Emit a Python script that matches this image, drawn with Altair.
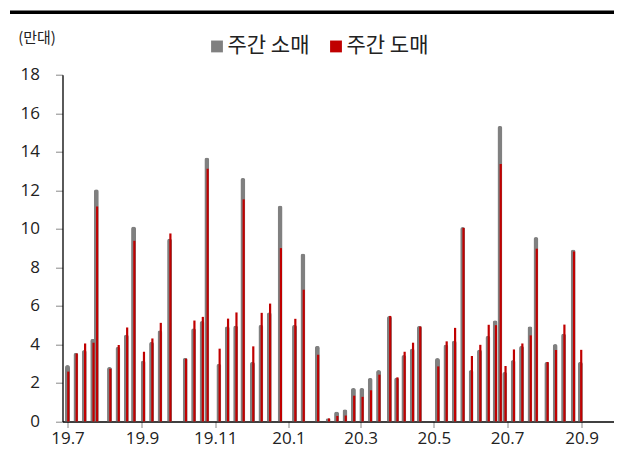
import altair as alt
import pandas as pd

dates = [
    "2019-07-01", "2019-07-08", "2019-07-15", "2019-07-22", "2019-07-25",
    "2019-08-05", "2019-08-12", "2019-08-19", "2019-08-25",
    "2019-09-02", "2019-09-09", "2019-09-16", "2019-09-24",
    "2019-10-07", "2019-10-14", "2019-10-21", "2019-10-25",
    "2019-11-04", "2019-11-11", "2019-11-18", "2019-11-24",
    "2019-12-02", "2019-12-09", "2019-12-16", "2019-12-25",
    "2020-01-06", "2020-01-13", "2020-01-25",
    "2020-02-03", "2020-02-10", "2020-02-17", "2020-02-24",
    "2020-03-02", "2020-03-09", "2020-03-16", "2020-03-25", "2020-03-31",
    "2020-04-06", "2020-04-13", "2020-04-19",
    "2020-05-04", "2020-05-11", "2020-05-18", "2020-05-25",
    "2020-06-01", "2020-06-08", "2020-06-15", "2020-06-21", "2020-06-25", "2020-06-29",
    "2020-07-06", "2020-07-13", "2020-07-20", "2020-07-25",
    "2020-08-03", "2020-08-10", "2020-08-17", "2020-08-25", "2020-08-31",
]

retail = [
    2.93, 3.57, 3.71, 4.29, 12.05,
    2.83, 3.88, 4.52, 10.12,
    3.17, 4.14, 4.74, 9.50,
    3.31, 4.84, 5.21, 13.70,
    3.00, 4.95, 4.98, 12.64,
    3.10, 5.02, 5.67, 11.21,
    5.02, 8.72, 3.93,
    0.17, 0.52, 0.64, 1.74,
    1.74, 2.26, 2.67, 5.48, 2.29,
    3.45, 3.79, 4.97,
    3.29, 4.00, 4.21, 10.09,
    2.67, 3.74, 4.45, 5.26, 15.34, 2.57,
    3.19, 3.93, 4.95, 9.57,
    3.09, 4.02, 4.57, 8.93, 3.10,
]

wholesale = [
    2.59, 3.53, 4.05, 4.09, 11.16,
    2.74, 3.97, 4.88, 9.38,
    3.62, 4.31, 5.12, 9.76,
    3.26, 5.24, 5.43, 13.12,
    3.78, 5.34, 5.66, 11.53,
    3.90, 5.64, 6.12, 9.00,
    5.33, 6.84, 3.47,
    0.16, 0.29, 0.31, 1.34,
    1.28, 1.62, 2.43, 5.48, 2.29,
    3.62, 4.09, 4.93,
    2.86, 4.16, 4.86, 10.05,
    3.40, 3.98, 5.02, 5.00, 13.36, 2.88,
    3.74, 4.05, 4.47, 8.97,
    3.09, 3.71, 5.03, 8.83, 3.72,
]

series_names = ["주간 소매", "주간 도매"]
series_colors = ["#808080", "#C00000"]
y_ticks = [0, 2, 4, 6, 8, 10, 12, 14, 16, 18]
x_tick_months = [(2019, 7), (2019, 9), (2019, 11), (2020, 1), (2020, 3), (2020, 5), (2020, 7), (2020, 9)]

rows = []
for d, r, w in zip(dates, retail, wholesale):
    rows.append({"date": d, "series": series_names[0], "value": r})
    rows.append({"date": d, "series": series_names[1], "value": w})
df = pd.DataFrame(rows)

x_enc = alt.X(
    "date:T",
    scale=alt.Scale(
        type="utc",
        domain=[
            alt.DateTime(year=2019, month=7, date=1, utc=True),
            alt.DateTime(year=2020, month=9, date=23, hours=19, utc=True),
        ],
    ),
    axis=alt.Axis(
        values=[alt.DateTime(year=y, month=m, date=1, utc=True) for y, m in x_tick_months],
        format="%y.%-m",
        title=None,
        labelFont="Open Sans",
        labelFontSize=17,
        labelColor="#222222",
        labelPadding=3,
        tickSize=6,
        tickColor="#888888",
        domainColor="#000000",
        domainWidth=1.3,
        grid=False,
        labelFlush=False,
    ),
)

y_enc = alt.Y(
    "value:Q",
    scale=alt.Scale(domain=[0, 18], nice=False),
    axis=alt.Axis(
        values=y_ticks,
        title="(만대)",
        titleAngle=0,
        titleX=-26,
        titleY=-37,
        titleAlign="center",
        titleBaseline="middle",
        titleFont="Noto Sans CJK KR",
        titleFontSize=15,
        titleFontWeight="normal",
        titleColor="#222222",
        labelFont="Open Sans",
        labelFontSize=17,
        labelColor="#222222",
        labelPadding=16,
        tickSize=7,
        tickColor="#888888",
        domainColor="#000000",
        domainWidth=1.3,
        grid=False,
    ),
)

color_enc = alt.Color(
    "series:N",
    scale=alt.Scale(domain=series_names, range=series_colors),
    legend=alt.Legend(
        title=None,
        orient="none",
        direction="horizontal",
        legendX=144,
        legendY=-39,
        symbolType="square",
        symbolSize=140,
        symbolStrokeWidth=0,
        symbolOpacity=1,
        labelFont="Noto Sans CJK KR",
        labelFontSize=21,
        labelColor="#222222",
        labelOffset=0,
        columnPadding=16,
    ),
)

base = alt.Chart(df)

gray = base.transform_filter(alt.datum.series == series_names[0]).mark_bar(
    size=5, cornerRadiusTopLeft=2.5, cornerRadiusTopRight=2.5
).encode(x=x_enc, y=y_enc, color=color_enc)

red = base.transform_filter(alt.datum.series == series_names[1]).mark_bar(
    size=2.2, xOffset=0.8
).encode(x=x_enc, y=y_enc, color=color_enc)

top_line = alt.Chart(pd.DataFrame({"k": [0]})).mark_rule(
    color="#000000", strokeWidth=3.5
).encode(x=alt.value(-52.5), x2=alt.value(560), y=alt.value(-62.5))

chart = alt.layer(top_line, gray, red).properties(
    width=551.5,
    height=346.8,
    padding={"left": 54.5, "top": 66.7, "right": 0, "bottom": 27},
    autosize=alt.AutoSizeParams(type="none"),
).configure_view(stroke=None)

chart.save("out.html", embed_options={"renderer": "svg", "actions": False})
